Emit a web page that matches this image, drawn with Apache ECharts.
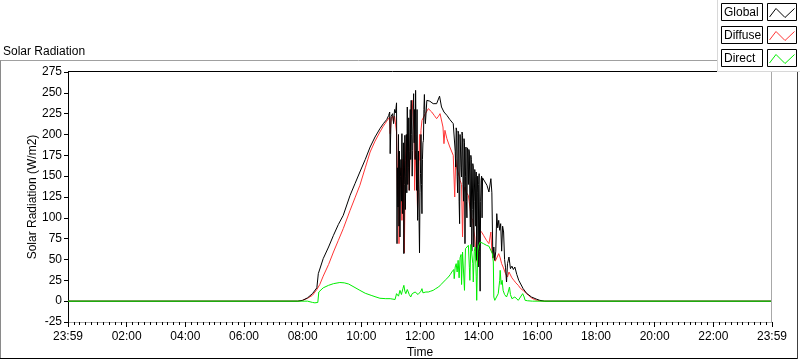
<!DOCTYPE html>
<html><head><meta charset="utf-8">
<script src="https://cdn.jsdelivr.net/npm/echarts@6/dist/echarts.min.js"></script>
<style>html,body{margin:0;padding:0;background:#fff}#c{width:800px;height:361px}</style>
</head><body><div id="c"></div>
<script>
// ---- data (time = minutes of day, value = W/m2) ----
const xTickLabels = ['23:59','02:00','04:00','06:00','08:00','10:00','12:00','14:00','16:00','18:00','20:00','22:00','23:59'];
const seriesNames = ['Global','Diffuse','Direct'];
const seriesColors = ['#000000','#ff3535','#00ee00'];

const globalData = [[0,0],[470,0],[480,1],[490,4],[500,9],[509,16],[512,33],[522,51],[533,65],[543,79],[553,92],[563,103],[577,127],[587,141],[597,155],[608,170],[618,185],[628,197],[638,207],[645,213],[652,218],[656,223],[658,227],[659,177],[661,222],[664,225],[666,213],[668,230],[670,226],[672,238],[673,69],[674,160],[675,113],[676,200],[677,90],[678,180],[679,77],[680,150],[681,170],[682,120],[683,201],[684,105],[685,160],[686,190],[687,57],[688,140],[689,199],[690,110],[691,150],[692,200],[693,130],[694,233],[695,140],[696,160],[697,220],[698,133],[699,180],[700,230],[701,170],[702,241],[703,200],[704,150],[705,181],[706,230],[707,249],[708,190],[709,230],[710,170],[711,253],[712,200],[713,133],[714,230],[715,97],[716,150],[717,180],[718,100],[719,58],[720,130],[721,153],[722,200],[723,140],[724,105],[725,170],[726,190],[727,193],[728,230],[729,248],[730,225],[731,213],[734,241],[740,240],[747,237],[754,237],[760,246],[764,233],[769,227],[775,223],[781,218],[788,213],[791,211],[792,180],[793,161],[794,208],[795,205],[796,150],[797,130],[798,204],[799,201],[800,120],[801,93],[802,200],[803,199],[804,160],[805,149],[806,203],[807,199],[808,140],[809,120],[810,195],[811,190],[812,69],[813,150],[814,185],[815,120],[816,100],[817,184],[818,181],[819,140],[820,182],[821,179],[822,120],[823,89],[824,175],[825,170],[826,60],[827,110],[828,165],[829,161],[830,65],[831,120],[832,158],[833,150],[834,90],[835,155],[836,49],[837,130],[838,150],[839,41],[840,140],[841,153],[842,60],[843,12],[844,120],[845,145],[846,150],[847,100],[848,148],[850,147],[853,143],[857,139],[861,131],[865,147],[867,130],[869,52],[871,65],[873,49],[875,60],[877,105],[879,88],[881,97],[883,85],[885,93],[887,60],[889,90],[891,83],[893,50],[895,40],[897,23],[899,45],[902,53],[905,39],[908,42],[911,38],[914,41],[918,32],[922,25],[925,23],[931,15],[938,9.5],[948,5],[958,2.5],[965,1],[975,0],[1440,0]];

const diffuseData = [[0,0],[470,0],[480,1],[490,3.5],[500,7],[509,14],[515,20],[522,30],[533,44],[543,59],[553,73],[563,87],[577,109],[587,124],[597,139],[608,160],[618,179],[628,192],[638,203],[645,210],[652,216],[656,218],[658,221],[659,201],[661,219],[664,222],[666,215],[668,222],[670,220],[672,203],[674,125],[676,180],[677,69],[679,145],[681,160],[683,97],[685,170],[688,58],[690,169],[692,193],[694,200],[696,185],[698,133],[700,190],[702,235],[704,241],[706,220],[708,205],[709,133],[711,180],[713,160],[715,109],[717,140],[719,200],[720,169],[722,205],[724,217],[728,217],[731,225],[734,225],[737,231],[744,227],[749,223],[754,219],[758,222],[761,225],[764,227],[767,209],[769,189],[771,205],[775,195],[781,185],[788,175],[791,125],[793,170],[795,161],[800,150],[802,145],[805,140],[807,77],[809,130],[812,137],[815,130],[819,127],[822,113],[825,100],[828,97],[830,85],[832,77],[834,60],[836,49],[839,43],[841,70],[843,85],[847,82],[850,79],[856,73],[861,69],[863,67],[865,83],[867,60],[870,53],[874,48],[878,50],[881,57],[884,52],[887,45],[890,41],[895,33],[899,29],[902,35],[905,33],[908,28],[912,25],[916,22],[921,19],[926,15],[931,13],[936,10],[942,7],[948,4],[954,2],[960,1],[970,0],[1440,0]];

const directData = [[0,0],[470,0],[490,0],[500,-1.5],[505,-2],[511,-1.5],[513,11],[522,16],[533,19],[543,21],[556,22.4],[565,22],[574,20.6],[585,17],[597,13],[608,9.5],[620,7],[630,5],[638,3.5],[650,3],[659,3],[669,2],[672,9],[676,6],[679,13],[682,8],[685,15],[687,19],[689,12],[691,9],[694,14],[696,15],[698,8],[701,5],[704,9],[707,7],[710,11],[713,12],[716,8],[719,7],[722,12],[724,15],[726,10],[728,9],[732,11],[737,11],[742,12],[747,13],[752,15],[758,17],[763,20],[768,23],[773,26],[778,29],[782,32],[785,35],[789,38],[790,27],[792,41],[794,45],[796,35],[798,49],[800,28],[802,52],[804,56],[805,20],[807,59],[809,60],[811,13],[813,63],[815,61],[817,64],[819,67],[821,40],[822,25],[824,68],[826,69],[828,45],[829,23],[831,60],[833,65],[835,30],[836,1],[838,60],[840,67],[843,71],[846,70],[850,69],[856,67],[861,66],[865,64],[868,57],[870,47],[871,5],[873,1],[876,3],[880,9],[883,25],[884,37],[886,20],[888,25],[890,13],[893,8],[897,5],[900,10],[903,17],[905,8],[908,3],[911,4],[914,5],[918,3],[921,1],[925,3],[930,9],[933,5],[935,1],[940,0.5],[950,0],[1440,0]];

const seriesData = [globalData, diffuseData, directData];
const seriesZ = [3, 2, 4];

// ---- chart ----
const FONT = '"Liberation Sans", Arial, sans-serif';
const chart = echarts.init(document.getElementById('c'), null, {renderer:'canvas'});

const graphics = [
  // outer frame
  {type:'line', shape:{x1:0, y1:60.5, x2:717, y2:60.5}, style:{stroke:'#a0a0a0', lineWidth:1}, z:10},
  {type:'line', shape:{x1:0.5, y1:60.5, x2:0.5, y2:359}, style:{stroke:'#8a8a8a', lineWidth:1}, z:10},
  {type:'line', shape:{x1:0, y1:358.5, x2:798, y2:358.5}, style:{stroke:'#000', lineWidth:1}, z:10},
  {type:'line', shape:{x1:797.5, y1:72, x2:797.5, y2:359}, style:{stroke:'#404040', lineWidth:1}, z:10},
  // plot top & right border
  {type:'line', shape:{x1:68, y1:71.5, x2:717, y2:71.5}, style:{stroke:'#000', lineWidth:1}, z:10},
  {type:'line', shape:{x1:771.5, y1:72, x2:771.5, y2:322}, style:{stroke:'#a8a8a8', lineWidth:1}, z:10},
  // legend panel
  {type:'rect', shape:{x:717.5, y:-1, width:84, height:72.5}, style:{fill:'#fff', stroke:'#d8d8d8', lineWidth:1}, z:20}
];
seriesNames.forEach((n, i) => {
  const y0 = 3 + i * 23;
  graphics.push({type:'rect', shape:{x:721.5, y:y0 + 0.5, width:41, height:17}, style:{fill:'#fff', stroke:'#000', lineWidth:1}, z:21});
  graphics.push({type:'text', x:724, y:y0 + 9.5, style:{text:n, font:'12px ' + FONT, fill:'#000', verticalAlign:'middle'}, z:22});
  graphics.push({type:'rect', shape:{x:767.5, y:y0 + 0.5, width:29, height:17}, style:{fill:'#fff', stroke:'#000', lineWidth:1}, z:21});
  graphics.push({type:'polyline', shape:{points:[[769.5, y0 + 14], [776, y0 + 5.5], [785, y0 + 14.5], [794.5, y0 + 5.5]]}, style:{stroke:seriesColors[i], lineWidth:1, fill:null}, z:22});
});

const option = {
  animation: false,
  backgroundColor: '#fff',
  textStyle: {fontFamily: FONT},
  title: {text:'Solar Radiation', left:3, top:46, padding:0, textStyle:{fontSize:12, fontWeight:'normal', color:'#000', fontFamily:FONT}},
  grid: {left:68, top:72, width:704, height:250, outerBoundsMode:'none', containLabel:false},
  xAxis: {
    type:'value', min:0, max:1440, interval:120,
    name:'Time', nameLocation:'middle', nameGap:25, nameMoveOverlap:false,
    nameTextStyle:{fontSize:12, color:'#000', fontFamily:FONT},
    axisLine:{show:true, onZero:false, lineStyle:{color:'#a8a8a8', width:1}},
    axisTick:{show:true, length:5, lineStyle:{color:'#000', width:1}},
    minorTick:{show:true, splitNumber:10, length:3, lineStyle:{color:'#000', width:1}},
    axisLabel:{margin:9, fontSize:12, color:'#000', fontFamily:FONT, showMinLabel:true, showMaxLabel:true,
      formatter: v => xTickLabels[Math.round(v / 120)]},
    splitLine:{show:false}, minorSplitLine:{show:false}
  },
  yAxis: {
    type:'value', min:-25, max:275, interval:25,
    name:'Solar Radiation (W/m2)', nameLocation:'middle', nameGap:29, nameRotate:90, nameMoveOverlap:false,
    nameTextStyle:{fontSize:12, color:'#000', fontFamily:FONT},
    axisLine:{show:true, onZero:false, lineStyle:{color:'#000', width:1}},
    axisTick:{show:true, length:4, lineStyle:{color:'#000', width:1}},
    axisLabel:{margin:6, fontSize:12, color:'#000', fontFamily:FONT},
    splitLine:{show:false}
  },
  series: seriesNames.map((n, i) => ({
    type:'line', name:n, data:seriesData[i], showSymbol:false, symbol:'none',
    lineStyle:{color:seriesColors[i], width:1}, itemStyle:{color:seriesColors[i]},
    emphasis:{disabled:true}, z:seriesZ[i]
  })),
  graphic: graphics
};
chart.setOption(option);
</script>
</body></html>
